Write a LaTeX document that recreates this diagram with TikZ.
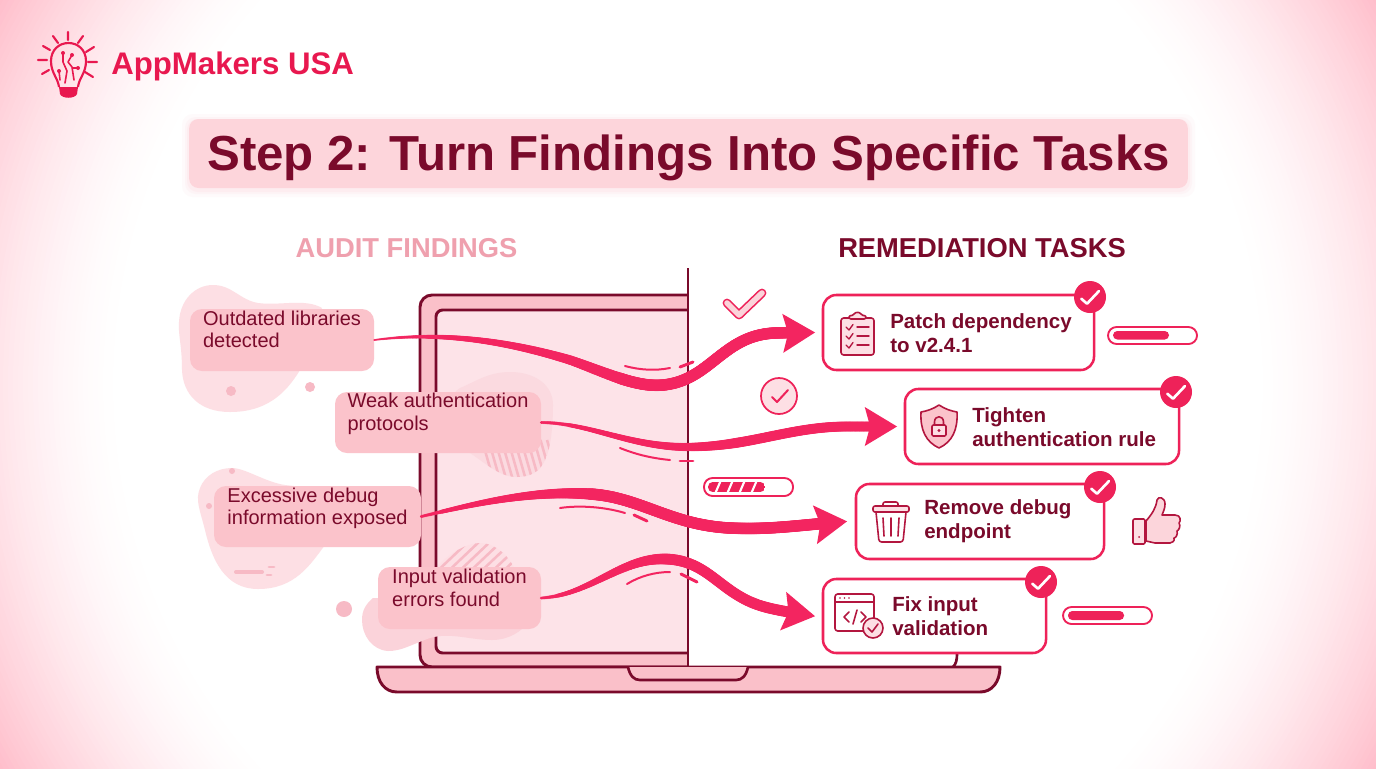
\documentclass[tikz,border=0pt]{standalone}
\usepackage{fontspec}
\setmainfont{Liberation Sans}
\usetikzlibrary{decorations.markings,calc}
\definecolor{dark}{HTML}{7A0A2B}
\definecolor{crim}{HTML}{EE2259}
\definecolor{ribbonc}{HTML}{F32560}
\definecolor{iconc}{HTML}{B3163F}
\definecolor{labelc}{HTML}{FBC3CB}
\definecolor{blobc}{HTML}{FDDFE4}
\definecolor{blobd}{HTML}{FBD3DA}
\definecolor{blobe}{HTML}{FBDAE0}
\definecolor{hatchc}{HTML}{F7BAC5}
\definecolor{screenc}{HTML}{FDE3E8}
\definecolor{framec}{HTML}{FAC0C9}
\definecolor{titlec}{HTML}{FDD5DB}
\definecolor{bgb}{HTML}{FFBECB}
\definecolor{softc}{HTML}{EFA0AE}
\definecolor{logoc}{HTML}{E8184F}
\newcommand{\ribhead}[2]{\fill[ribbonc,shift={#1},rotate=#2] (1.3,0) -- (-31,19.5) -- (-27,5) -- (-27,-5) -- (-31,-19.5) -- cycle;}
\tikzset{
 labelbox/.style 2 args={draw=none,fill=labelc,rounded corners=9pt,text=dark,align=left,inner sep=0pt,
   minimum width={#1*0.75pt},minimum height={#2*0.75pt},font=\fontsize{15}{16.9}\selectfont},
 taskbox/.style 2 args={draw=crim,line width=1.9pt,fill=white,rounded corners=10pt,minimum width={#1*0.75pt},minimum height={#2*0.75pt},inner sep=0pt},
 tasktext/.style={text=dark,align=left,inner sep=0pt,anchor=west,font=\bfseries\fontsize{15.4}{18}\selectfont},
 badge/.style={circle,fill=crim,minimum size=24pt,inner sep=0pt},
 tickw/.style={draw=white,line width=2pt,line cap=round,line join=round},
 icon/.style={draw=iconc,line width=1.2pt,line join=round,line cap=round},
 blobf/.style={fill=blobc},
 thinr/.style={draw=ribbonc,line width=1.5pt,line cap=round},
 thickr/.style={draw=ribbonc,line width=2.2pt,line cap=round},
 rayl/.style={draw=logoc,line width=1.6pt,line cap=round},
 barout/.style={draw=crim,line width=1.4pt,fill=white,rounded corners=6.4pt},
 barin/.style={fill=crim,rounded corners=3.2pt},
 ribbon/.style n args={3}{decorate,decoration={markings,
   mark=between positions 0 and 0.94 step 0.7pt with {
     \pgfmathsetmacro\ribt{\pgfkeysvalueof{/pgf/decoration/mark info/distance from start}/\pgfdecoratedpathlength}
     \pgfmathsetmacro\ribr{0.375*(#1+(#2-#1)*min(1,\ribt/#3))}
     \fill[ribbonc] (0pt,0pt) circle (\ribr pt);}}},
}
\begin{document}
\begin{tikzpicture}[x=0.75pt,y=-0.75pt]
\useasboundingbox (0,0) rectangle (1376,768);
% background: concentric circles from the pink corners to the white centre
\begin{scope}
\clip (0,0) rectangle (1376,768);
\fill[bgb] (0,0) rectangle (1376,768);
\foreach \i in {0,1,...,48}{
  \pgfmathsetmacro\radv{790-\i*5}
  \pgfmathsetmacro\frv{max(0,min(1,(\radv-570)/220))}
  \pgfmathsetmacro\mixv{100*\frv*sqrt(\frv)}
  \fill[bgb!\mixv!white] (688,384) circle (\radv);
}
\end{scope}
% logo
\node[text=logoc,anchor=base west,inner sep=0pt,font=\bfseries\fontsize{23.4}{26}\selectfont] (logo) at (111,74) {AppMakers USA};
\draw[rayl] (68,32) -- (68,40) (53,36) -- (58,43) (83,36) -- (78,43) (43,46) -- (50,50) (94,47) -- (86,52)
  (38,60) -- (47,60) (97,62) -- (88,62) (42,74) -- (49,70) (93,77) -- (85,72);
\draw[logoc,line width=1.6pt,line join=round] (59,87) .. controls (58,78) and (51,73) .. (51,61) .. controls (51,50) and (59,43) .. (68.5,43) .. controls (78,43) and (86,50) .. (86,61) .. controls (86,73) and (79,78) .. (78,87);
\draw[logoc,line width=1.2pt,line cap=round,line join=round] (63,53) -- (63,62) -- (67,71) -- (65,83) (72,55) -- (68,62) -- (72,67) -- (74,80) (59,71) -- (60,80) (78,68) -- (73,68);
\foreach \p in {(63,53),(72,55),(59,71),(78,68)} \fill[logoc] \p circle (2);
\fill[logoc] (59,87) -- (78,87) -- (77,94) .. controls (75,99) and (62,99) .. (60,94) -- cycle;
% title
\foreach \g/\o in {7/0.10,4/0.14,2/0.2}
  \fill[titlec,opacity=\o,rounded corners=8pt] (189-\g,119-\g+2) rectangle (1188+\g,188+\g+2);
\node[fill=titlec,rounded corners=7pt,minimum width=749pt,minimum height=51.75pt,inner sep=0pt,text=dark,text height=25pt,text depth=0pt,font=\bfseries\fontsize{36.9}{40}\selectfont] (title) at (688.5,153.5) {Step 2: Turn Findings Into Specific Tasks};
% headings
\node[text=softc,inner sep=0pt,font=\bfseries\fontsize{20.5}{24}\selectfont] (hleft) at (406.5,248) {AUDIT FINDINGS};
\node[text=dark,inner sep=0pt,font=\bfseries\fontsize{20.5}{24}\selectfont] (hright) at (982,248) {REMEDIATION TASKS};
% laptop
\filldraw[fill=framec,draw=dark,line width=2.2pt,rounded corners=9pt] (688,295) -- (420,295) -- (420,667) -- (688,667);
\filldraw[fill=screenc,draw=dark,line width=2.2pt,rounded corners=5pt] (688,310) -- (436,310) -- (436,653) -- (688,653);
\filldraw[fill=framec,draw=dark,line width=2.2pt,line join=round] (377,667) -- (1000,667) .. controls (1000,682) and (992,692) .. (980,692) -- (397,692) .. controls (385,692) and (377,682) .. (377,667) -- cycle;
\filldraw[fill=framec,draw=dark,line width=2pt] (628,667) .. controls (630,676) and (634,680) .. (640,680) -- (736,680) .. controls (742,680) and (746,676) .. (748,667);
\draw[dark,line width=2pt] (957,654) .. controls (957,660) and (956,664) .. (953,667);
\draw[dark,line width=2.2pt] (688,268) -- (688,667);
% blobs
\fill[blobf] (213,285) .. controls (232,285) and (240,300) .. (258,303) .. controls (280,306) and (305,298) .. (322,308) -- (300,370) .. controls (285,395) and (265,412) .. (230,412) .. controls (200,412) and (183,395) .. (182,370) .. controls (182,345) and (178,335) .. (179,322) .. controls (180,300) and (195,285) .. (213,285) -- cycle;
\fill[blobc] (232,468) .. controls (245,468) and (265,482) .. (285,485) -- (330,490) -- (325,545) .. controls (310,565) and (295,589) .. (258,589) .. controls (225,589) and (212,560) .. (205,530) .. controls (200,510) and (195,500) .. (200,488) .. controls (205,475) and (218,468) .. (232,468) -- cycle;
\path[save path=\blobtwo] (460,388) .. controls (475,382) and (488,372) .. (510,372) .. controls (535,372) and (553,385) .. (553,405) .. controls (553,430) and (550,450) .. (545,460) .. controls (540,472) and (530,477) .. (517,477) .. controls (500,477) and (488,465) .. (470,453) .. controls (450,440) and (440,400) .. (460,388) -- cycle;
\fill[blobe,use path=\blobtwo];
\begin{scope}
\clip[use path=\blobtwo];
\foreach \i in {0,1,...,13}
  \draw[hatchc,line width=1.9pt] (482+\i*6.5,440) -- (494+\i*6.5,482);
\end{scope}
\path[save path=\blobhat] (438,566) .. controls (450,552) and (468,543) .. (480,543) .. controls (495,543) and (510,556) .. (516,572) -- (438,572) -- cycle;
\fill[blobc,use path=\blobhat];
\begin{scope}
\clip[use path=\blobhat];
\foreach \i in {0,1,...,9}
  \draw[hatchc,line width=1.9pt] (430+\i*11,578) -- (470+\i*11,540);
\end{scope}
\fill[blobd] (373,598) -- (500,600) -- (530,620) .. controls (522,632) and (508,640) .. (492,640) .. controls (470,640) and (450,632) .. (430,638) .. controls (410,645) and (402,651) .. (388,651) .. controls (372,650) and (362,635) .. (362,620) .. controls (362,610) and (366,604) .. (373,598) -- cycle;
\foreach \x/\y/\r in {231/391/5,310/387/5,232/471/3,209/506/3,344/609/8}
  \fill[hatchc] (\x,\y) circle (\r);
\draw[hatchc,line width=3pt,line cap=round] (236,572) -- (262,572);
\draw[hatchc,line width=2.2pt,line cap=round] (269,567) -- (274,567) (267,575) -- (271,575);
% task boxes
\node[taskbox={271}{75}] (t1) at (958.5,332.5) {};
\node[taskbox={274}{75}] (t2) at (1042,426.5) {};
\node[taskbox={248}{75}] (t3) at (980,521.5) {};
\node[taskbox={223}{74}] (t4) at (934.5,616) {};
\node[tasktext] (tt1) at (890,333) {Patch dependency\\to v2.4.1};
\node[tasktext] (tt2) at (972,427) {Tighten\\authentication rule};
\node[tasktext] (tt3) at (924,521) {Remove debug\\endpoint};
\node[tasktext] (tt4) at (892,616) {Fix input\\validation};
\foreach \n/\x/\y in {b1/1090/297,b2/1176/392,b3/1100/487,b4/1041/582}{
  \node[badge] (\n) at (\x,\y) {};
  \draw[tickw] (\x-8.7,\y+1.7) -- (\x-3,\y+6.7) -- (\x+9,\y-6);
}
% labels
\node[labelbox={184}{62},text height=11.8pt] (l1) at (282,340) {Outdated libraries\\detected};
% ribbons
\path[ribbon={2}{11.5}{0.55}] (l1.east) .. controls (450,330) and (520,345) .. (570,360) .. controls (610,374) and (640,390) .. (670,384) .. controls (712,376) and (725,335) .. (775,333) .. controls (790,332.5) and (800,332.5) .. ($(t1.west)+(-8,0)$);
\ribhead{($(t1.west)+(-8,0)$)}{1.5}
\node[labelbox={206}{61},text height=14.7pt] (l2) at (438,422.5) {Weak authentication\\protocols};
\path[ribbon={3}{10}{0.55}] (l2.east) .. controls (590,423) and (630,447) .. (687,447) .. controls (750,447) and (790,426) .. (850,426.5) .. controls (870,426.5) and (880,426.5) .. ($(t2.west)+(-8,0)$);
\ribhead{($(t2.west)+(-8,0)$)}{0}
\node[labelbox={207}{61},text height=15.5pt] (l3) at (317.5,516.5) {Excessive debug\\information exposed};
\path[ribbon={3}{11.5}{0.4}] (l3.east) .. controls (470,505) and (530,490) .. (590,494) .. controls (640,497) and (670,525) .. (730,528) .. controls (770,530) and (800,525) .. ($(t3.west)+(-9,0)$);
\ribhead{($(t3.west)+(-9,0)$)}{6}
\node[labelbox={163}{62},text height=12.2pt] (l4) at (459.5,598) {Input validation\\errors found};
\path[ribbon={3}{11}{0.45}] (l4.east) .. controls (590,595) and (620,558) .. (665,559) .. controls (710,560) and (720,595) .. (765,607) .. controls (780,611) and (795,613) .. ($(t4.west)+(-8,0)$);
\ribhead{($(t4.west)+(-8,0)$)}{-9}
% thin marks
\draw[thinr] (625,366) .. controls (640,370) and (655,371) .. (670,368);
\draw[thickr] (680,367) -- (693,362);
\draw[thinr] (620,448) .. controls (635,454) and (650,458) .. (670,460);
\draw[thickr] (680,461) -- (693,461);
\draw[thinr] (560,508) .. controls (580,505) and (605,507) .. (625,513);
\draw[thickr] (634,515) -- (647,521);
\draw[thinr] (627,584) .. controls (640,576) and (655,572) .. (670,572);
\draw[thickr] (681,574) -- (697,582);
% decor tick
\draw[crim,line width=6.6pt,line cap=round,line join=round] (727,303) -- (739,315) -- (762,293);
\draw[blobd,line width=4.2pt,line cap=round,line join=round] (727,303) -- (739,315) -- (762,293);
\filldraw[fill=blobc,draw=crim,line width=1.3pt] (779,396) circle (18);
\draw[crim,line width=1.5pt,line cap=round,line join=round] (772,397) -- (777,402) -- (788,390);
% progress bars
\filldraw[barout] (1108,327) rectangle (1197,344);
\fill[barin] (1113,331) rectangle (1169,339.5);
\filldraw[barout] (1063,607) rectangle (1152,624);
\fill[barin] (1068,611) rectangle (1124,620);
\filldraw[barout] (704,478) rectangle (793,496);
\begin{scope}
\clip[rounded corners=3.5pt] (708,482) rectangle (765,492);
\fill[crim] (708,482) rectangle (765,492);
\foreach \i in {0,1,2,3}
  \draw[white,line width=1.6pt] (715+\i*12,494) -- (721+\i*12,480);
\end{scope}
% clipboard icon
\filldraw[icon,fill=blobc,rounded corners=2pt] (841,318) rectangle (874,355);
\filldraw[icon,fill=blobc,rounded corners=1.5pt] (849,319) -- (849,315.5) -- (854,315.5) .. controls (855,312) and (860,312) .. (861,315.5) -- (866,315.5) -- (866,319) -- cycle;
\foreach \y in {327,336,345}{
  \draw[icon,line width=1pt] (846,\y) -- (849,\y+3) -- (853,\y-2.5);
  \draw[icon,line width=1.1pt] (857,\y) -- (869,\y);
}
% shield icon
\filldraw[icon,fill=labelc] (939,405) .. controls (945,409) and (951,411) .. (957,412) .. controls (958,430) and (952,442) .. (939,448) .. controls (926,442) and (920,430) .. (921,412) .. controls (927,411) and (933,409) .. (939,405) -- cycle;
\filldraw[icon,fill=blobc,rounded corners=1pt] (932,425) rectangle (946,436);
\draw[icon] (934.5,425) -- (934.5,422) .. controls (934.5,415) and (943.5,415) .. (943.5,422) -- (943.5,425);
\fill[iconc] (939,430.5) circle (1.6);
% trash icon
\filldraw[icon,fill=white,rounded corners=1.5pt] (883,506) -- (883,502) -- (898,502) -- (898,506);
\filldraw[icon,fill=white,rounded corners=2pt] (876,512) -- (879,542) -- (903,542) -- (906,512);
\filldraw[icon,fill=blobc,rounded corners=1.5pt] (873,506) rectangle (909,512);
\draw[icon] (883,518) -- (884,536) (891,518) -- (891,536) (899,518) -- (898,536);
% code icon
\filldraw[icon,fill=white,rounded corners=2pt] (835,594) rectangle (874,631);
\draw[icon] (835,602) -- (874,602);
\foreach \x in {840,844.5,849} \fill[iconc] (\x,598) circle (0.9);
\draw[icon] (849,612) -- (844,617) -- (849,622) (857,610) -- (853,624) (861,612) -- (866,617) -- (861,622);
\filldraw[icon,fill=blobc] (873,628) circle (10);
\draw[icon] (868,628) -- (872,632) -- (878,624);
% thumb icon
\filldraw[icon,fill=blobc,rounded corners=1pt] (1133,519) rectangle (1145,544);
\filldraw[icon,fill=labelc!70!white] (1146,521) .. controls (1152,514) and (1156,508) .. (1157,500) .. controls (1158,496) and (1165,497) .. (1165,504) .. controls (1165,509) and (1163,512) .. (1162,515) -- (1175,515) .. controls (1181,515) and (1181,521) .. (1179,523) .. controls (1181,526) and (1179,530) .. (1177,531) .. controls (1178,534) and (1176,538) .. (1174,538) .. controls (1175,541) and (1172,543) .. (1170,543) -- (1155,543) -- (1146,541) -- cycle;
\fill[iconc] (1139,537) circle (1);
\end{tikzpicture}
\end{document}
